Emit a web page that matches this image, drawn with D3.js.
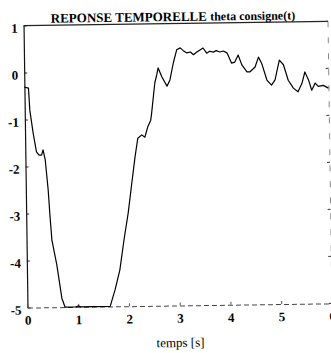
<!DOCTYPE html>
<html>
<head>
<meta charset="utf-8">
<script src="https://cdn.jsdelivr.net/npm/d3@7"></script>
<style>
  html, body { margin: 0; padding: 0; background: #fff; }
  svg { display: block; }
</style>
</head>
<body>
<div id="chart"></div>
<script>
// Step response of theta set-point over time
const times = [0, 0.08, 0.10, 0.16, 0.22, 0.27, 0.32, 0.35, 0.39, 0.44, 0.47, 0.50, 0.59, 0.68, 0.74,
  0.95, 1.00, 1.05, 1.30, 1.63,
  1.73, 1.83, 1.92, 2.01, 2.09, 2.16, 2.22, 2.30, 2.36, 2.42, 2.48, 2.50, 2.57, 2.61, 2.64,
  2.71, 2.81, 2.87, 2.94, 3.01, 3.08, 3.14, 3.21, 3.28, 3.34, 3.40, 3.47, 3.53, 3.60, 3.66,
  3.73, 3.79, 3.86, 3.93, 4.00, 4.09, 4.15, 4.22, 4.29, 4.39, 4.45, 4.55, 4.62, 4.68, 4.78,
  4.87, 4.94, 5.03, 5.11, 5.20, 5.30, 5.39, 5.47, 5.53, 5.60, 5.66, 5.73, 5.79, 5.89, 5.99];
const theta = [-0.31, -0.33, -0.80, -1.29, -1.69, -1.76, -1.76, -1.65, -1.86, -2.50, -3.08, -3.57, -4.10, -4.81, -5.00,
  -5.00, -4.98, -5.00, -5.00, -5.00,
  -4.65, -4.23, -3.59, -3.02, -2.38, -1.83, -1.43, -1.36, -1.41, -1.19, -1.05, -0.90, -0.26, -0.09, 0.06,
  -0.13, -0.33, -0.20, 0.16, 0.44, 0.48, 0.42, 0.37, 0.39, 0.33, 0.38, 0.43, 0.47, 0.36, 0.40,
  0.38, 0.41, 0.38, 0.40, 0.36, 0.14, 0.16, 0.31, 0.10, -0.05, -0.05, 0.05, 0.26, 0.13, -0.23,
  -0.34, -0.23, 0.19, 0.09, -0.24, -0.41, -0.49, -0.31, -0.07, -0.24, -0.46, -0.31, -0.38, -0.36, -0.42];

const xTicks = [0, 1, 2, 3, 4, 5, 6];
const yTicks = [1, 0, -1, -2, -3, -4, -5];
const titleMain = "REPONSE TEMPORELLE";
const titleSub = "theta consigne(t)";
const xLabel = "temps [s]";

const W = 331, H = 353;
const svg = d3.select("#chart").append("svg")
  .attr("width", W).attr("height", H)
  .style("background", "#fff");

// whole figure sits slightly tilted
const g = svg.append("g").attr("transform", "rotate(-0.8,176,165)");

const x = d3.scaleLinear().domain([0, 6]).range([25.5, 330]);
const y = d3.scaleLinear().domain([-5, 1]).range([305.5, 23.5]);

const serif = "'Liberation Serif', 'DejaVu Serif', serif";
const plain = d => String(d);   // plain hyphen for negatives

// left axis
const ya = g.append("g").attr("transform", `translate(${x(0)},0)`)
  .call(d3.axisLeft(y).tickValues(yTicks).tickSize(-3).tickSizeOuter(0).tickPadding(6)
    .tickFormat(plain));
ya.select(".domain").attr("stroke", "#111").attr("stroke-width", 1.2);
ya.selectAll(".tick line").attr("stroke", "#222");
ya.selectAll(".tick text")
  .attr("font-family", serif).attr("font-size", 13).attr("font-weight", "bold")
  .attr("fill", "#000").attr("dy", "0.5em");

// bottom axis
const xa = g.append("g").attr("transform", `translate(0,${y(-5)})`)
  .call(d3.axisBottom(x).tickValues(xTicks).tickSize(-3).tickSizeOuter(0).tickPadding(8)
    .tickFormat(plain));
xa.select(".domain").attr("stroke", "#444").attr("stroke-width", 1).attr("stroke-dasharray", "5,3");
xa.selectAll(".tick line").attr("stroke", "#555");
xa.selectAll(".tick text")
  .attr("font-family", serif).attr("font-size", 13).attr("font-weight", "bold").attr("fill", "#000");

// top and right frame
g.append("line")
  .attr("x1", x(0)).attr("x2", x(6)).attr("y1", y(1)).attr("y2", y(1))
  .attr("stroke", "#222").attr("stroke-width", 1.1);
g.append("line")
  .attr("x1", x(6)).attr("x2", x(6)).attr("y1", y(1)).attr("y2", y(-5))
  .attr("stroke", "#888").attr("stroke-width", 1).attr("stroke-dasharray", "6,10");
yTicks.forEach(v => {
  g.append("line")
    .attr("x1", x(6)).attr("x2", x(6) - 3).attr("y1", y(v)).attr("y2", y(v))
    .attr("stroke", "#333");
});

// response curve
const pts = times.map((t, i) => [t, theta[i]]);
g.append("path")
  .datum(pts)
  .attr("fill", "none")
  .attr("stroke", "#000")
  .attr("stroke-width", 1.2)
  .attr("stroke-linejoin", "round")
  .attr("d", d3.line().x(d => x(d[0])).y(d => y(d[1])));

// title
const title = g.append("text")
  .attr("x", 175).attr("y", 21)
  .attr("text-anchor", "middle")
  .attr("font-family", serif).attr("font-weight", "bold").attr("fill", "#000");
title.append("tspan").attr("font-size", 13).text(titleMain + " ");
title.append("tspan").attr("font-size", 12).text(titleSub);

// x label
g.append("text")
  .attr("x", 178).attr("y", 347)
  .attr("text-anchor", "middle")
  .attr("font-family", serif).attr("font-size", 13).attr("fill", "#000")
  .text(xLabel);
</script>
</body>
</html>
